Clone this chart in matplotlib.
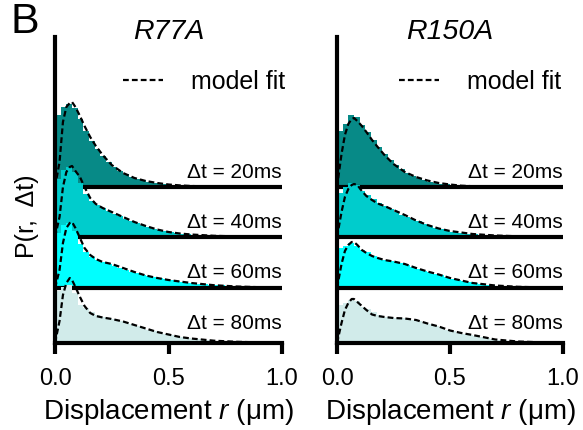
# 位移分佈直方圖 + 模型擬合 (R77A / R150A)
import numpy as np
import matplotlib.pyplot as plt

plt.rcParams['font.family'] = ['Liberation Sans', 'DejaVu Sans']
plt.rcParams['mathtext.fontset'] = 'custom'
plt.rcParams['mathtext.rm'] = 'Liberation Sans'
plt.rcParams['mathtext.it'] = 'Liberation Sans:italic'

# 時間間隔 (ms)
lags = [20, 40, 60, 80]

# 直方圖 bin: 0 ~ 1.0 um, 寬 0.025
bin_width = 0.025
n_bins = 40

# 直方圖高度 (任意單位)
hist_r77a_20 = [72, 80, 83, 79, 68, 56, 46, 38, 31, 25, 20, 16, 13, 10, 8.5, 7, 5.5, 4.5, 3.6, 3,
                2.3, 1.8, 1.4, 1.1, 0.8, 0.6, 0.5, 0.4, 0.3, 0.2, 0.2, 0.1, 0.1, 0.1, 0, 0, 0, 0, 0, 0]
hist_r77a_40 = [58, 67, 70, 65, 54, 43, 36, 32, 29, 26, 23, 21, 18.5, 16, 14, 12, 10, 8.5, 7, 5.8,
                4.8, 4, 3.4, 2.8, 2.4, 2, 1.7, 1.4, 1.1, 0.9, 0.7, 0.6, 0.5, 0.4, 0.3, 0.2, 0.2, 0.1, 0.1, 0.1]
hist_r77a_60 = [55, 63, 65, 57, 44, 36, 31, 28, 26, 24, 22, 20, 18, 16.5, 15, 13.5, 12, 11, 10, 9,
                8, 7, 6.5, 5.5, 5, 4.5, 4, 3.5, 3, 2.6, 2.2, 1.9, 1.6, 1.3, 1.1, 0.9, 0.7, 0.6, 0.5, 0.4]
hist_r77a_80 = [52, 56, 58, 50, 38, 35, 31, 28, 26, 25, 24, 22.5, 21, 19, 17, 15.5, 13.5, 12, 10.5, 9,
                8, 6.8, 5.8, 5, 4.3, 3.7, 3.1, 2.6, 2.2, 1.8, 1.5, 1.3, 1.1, 0.9, 0.7, 0.6, 0.5, 0.4, 0.3, 0.3]

hist_r150a_20 = [56, 63, 72, 70, 62, 55, 47, 40, 33, 27, 22, 18, 14, 11, 9, 7, 5.5, 4.5, 3.5, 2.8,
                 2, 1.5, 1.1, 0.8, 0.6, 0.4, 0.3, 0.2, 0.1, 0.1, 0, 0, 0, 0, 0, 0, 0, 0, 0, 0]
hist_r150a_40 = [44, 50, 54, 52, 46, 42, 38, 34, 31, 28, 25, 22.5, 20, 18, 16, 13.5, 11, 9.5, 8, 6.5,
                 5.5, 4.5, 3.8, 3.2, 2.6, 2.1, 1.7, 1.4, 1.1, 0.9, 0.7, 0.5, 0.4, 0.3, 0.2, 0.2, 0.1, 0.1, 0.1, 0]
hist_r150a_60 = [40, 42, 45, 42, 38, 36, 32, 30, 28.5, 27, 26, 25, 23.5, 21.5, 19.5, 17.5, 16, 14.5, 13, 11,
                 9.5, 8.2, 7, 5.8, 4.8, 4, 3.4, 2.8, 2.3, 1.9, 1.5, 1.2, 1, 0.8, 0.6, 0.5, 0.4, 0.3, 0.3, 0.2]
hist_r150a_80 = [38, 40, 43, 42, 36, 34, 31, 28, 26.5, 26, 25.5, 25, 24.5, 23.5, 22.5, 20.5, 19, 17, 15, 13,
                 12, 10.5, 9.5, 8.5, 7.5, 6.2, 5.2, 4.4, 3.4, 2.6, 2, 1.5, 1.2, 0.9, 0.7, 0.6, 0.5, 0.4, 0.3, 0.2]

# 模型擬合曲線
r_fit = [0, 0.02, 0.035, 0.05, 0.065, 0.075, 0.09, 0.11, 0.13, 0.155, 0.18, 0.21,
         0.25, 0.3, 0.35, 0.4, 0.45, 0.5, 0.55, 0.6, 0.7, 0.8, 0.9, 1.0]

fit_r77a_20 = [0, 25, 65, 80, 84, 85, 80, 71, 61, 50, 41, 32, 22, 14, 9, 6, 4, 2.5, 1.6, 1.0, 0.4, 0.2, 0.1, 0]
fit_r77a_40 = [0, 20, 50, 65, 70, 71, 66, 60, 50, 39, 33, 29, 25, 20, 15, 11, 7.5, 5, 3.5, 2.5, 1.2, 0.6, 0.3, 0.1]
fit_r77a_60 = [0, 18, 45, 60, 65, 66, 60, 50, 40, 33, 29, 26, 24, 20, 16, 12.5, 10, 8, 6.5, 5, 2.8, 1.5, 0.8, 0.4]
fit_r77a_80 = [0, 22, 48, 60, 65, 63, 56, 46, 37, 30, 27, 25.5, 24, 21.5, 18, 14.5, 11, 8.5, 6, 4.5, 2.3, 1.2, 0.6, 0.3]

fit_r150a_20 = [0, 33, 52, 63, 68, 69, 66, 61, 55, 47, 40, 32, 23, 15, 10, 6.5, 4, 2.5, 1.3, 0.8, 0.3, 0.1, 0, 0]
fit_r150a_40 = [0, 25, 40, 48, 52, 53, 52, 46, 41, 37, 33.5, 31, 27, 22, 16.5, 12, 8.5, 6, 4.5, 3, 1.5, 0.7, 0.3, 0.1]
fit_r150a_60 = [0, 24, 37, 43, 46, 46, 43, 38, 35, 32, 30, 28, 26.5, 24, 20, 16.5, 13.5, 10, 7.5, 5, 2.5, 1.2, 0.6, 0.3]
fit_r150a_80 = [0, 20, 33, 40, 44, 44, 41, 37, 33, 28.5, 27, 26, 25, 24.5, 23, 19.5, 16.5, 12.5, 10, 8, 3.5, 1.5, 0.7, 0.3]

# 樣式
colors = ['#078a87', '#00cccc', '#00ffff', '#d1ebea']
offsets = [156, 106, 55, 0]
label_lift = [9, 9, 10, 14]

edges = np.arange(n_bins + 1) * bin_width

fig = plt.figure(figsize=(5.83, 4.30), dpi=100)
ax1 = fig.add_axes([55/583, 87/430, 227/583, 306/430])
ax2 = fig.add_axes([337/583, 87/430, 226/583, 306/430])


def draw_panel(ax, title, hists, fits, legend_x):
    for i in range(4):
        off = offsets[i]
        z = 1 + i*0.1
        ax.stairs(np.array(hists[i]) + off, edges, baseline=off, fill=True,
                  color=colors[i], lw=0, zorder=z)
        if i < 3:
            ax.axhline(off, color='k', lw=3, zorder=z + 0.05)
        ax.plot(r_fit, np.array(fits[i]) + off, color='k', ls=(0, (2.6, 1.4)), lw=1.6,
                zorder=3, label='model fit' if i == 0 else None)
        ax.text(1.0, off + label_lift[i], 'Δt = %dms' % lags[i], ha='right',
                va='baseline', fontsize=15, zorder=4)

    ax.legend(loc='center right', bbox_to_anchor=(legend_x, 0.853), frameon=False,
              fontsize=18, handlelength=1.6, handletextpad=1.1, borderpad=0, borderaxespad=0)
    ax.text(0.5, 1.0 - 2/306, title, transform=ax.transAxes, ha='center',
            va='baseline', fontsize=20.5, style='italic')

    ax.set_xlim(0, 1)
    ax.set_ylim(0, 306)
    ax.set_yticks([])
    ax.set_xticks([0, 0.5, 1.0])
    ax.set_xticklabels(['0.0', '0.5', '1.0'])
    ax.tick_params(axis='x', length=8, width=3, labelsize=17, pad=10)
    for s in ['top', 'right']:
        ax.spines[s].set_visible(False)
    for s in ['left', 'bottom']:
        ax.spines[s].set_linewidth(3)
    ax.set_xlabel('Displacement $r$ (μm)', fontsize=20)
    ax.xaxis.set_label_coords(0.5, -0.175)


draw_panel(ax1, 'R77A', [hist_r77a_20, hist_r77a_40, hist_r77a_60, hist_r77a_80],
           [fit_r77a_20, fit_r77a_40, fit_r77a_60, fit_r77a_80], 1.013)
draw_panel(ax2, 'R150A', [hist_r150a_20, hist_r150a_40, hist_r150a_60, hist_r150a_80],
           [fit_r150a_20, fit_r150a_40, fit_r150a_60, fit_r150a_80], 0.99)

fig.text(10/583, 1 - 33/430, 'B', fontsize=31, ha='left', va='baseline')
fig.text(27/583, 1 - 216/430, 'P(r,  Δt)', rotation=90, ha='center', va='center', fontsize=18)

plt.savefig('out.png', dpi=100)
